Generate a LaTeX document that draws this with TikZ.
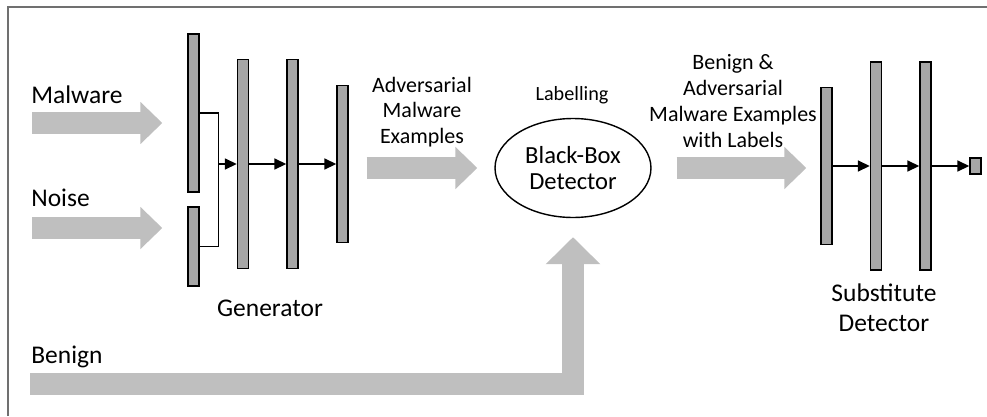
\documentclass[tikz,border=0pt]{standalone}
\usepackage{fontspec}
\setmainfont{Carlito}
\usetikzlibrary{arrows.meta,shapes.geometric,positioning}

\definecolor{barfill}{HTML}{A6A6A6}
\definecolor{flowgray}{HTML}{BFBFBF}
\definecolor{framegray}{HTML}{707070}

\tikzset{
  bar/.style={draw, fill=barfill, line width=0.8pt, minimum width=0.22cm, inner sep=0pt},
  link/.style={line width=0.9pt, -{Triangle[length=0.24cm, width=0.22cm]}},
  flow/.style={draw=flowgray, line width=0.43cm, -{Triangle[length=0.44cm, width=0.82cm]}},
  biglabel/.style={font=\fontsize{14.5}{17}\selectfont, align=center, inner sep=0pt},
  midlabel/.style={font=\fontsize{12.5}{14.7}\selectfont, align=center, inner sep=0pt},
}

\begin{document}
\begin{tikzpicture}[x=0.02cm, y=-0.02cm]

    % Fix the page size
    \useasboundingbox (0,0) rectangle (987,416);

    % Frame (top and left edges only)
    \draw[framegray, line width=1.1pt] (8,416) -- (8,7) -- (987,7);

    % Generator layers
    \node[bar, minimum height=3.16cm] (g1) at (193.5,113) {};
    \node[bar, minimum height=1.58cm] (g2) at (193.5,246.5) {};
    \node[bar, minimum height=4.18cm] (g3) at (243,164) {};
    \node[bar, minimum height=4.18cm] (g4) at (292.5,164) {};
    \node[bar, minimum height=3.14cm] (g5) at (342.5,164) {};

    % Join malware and noise inputs, then feed forward
    \draw[line width=0.9pt] (g1.east) -- ++(19,0) coordinate (gj) |- (g2.east);
    \draw[link] (gj |- g3.west) -- (g3.west);
    \draw[link] (g3.east) -- (g4.west);
    \draw[link] (g4.east) -- (g5.west);

    % Black-box detector
    \node[ellipse, draw, line width=0.8pt, minimum width=3.12cm, minimum height=1.98cm,
          inner sep=0pt, align=center, font=\fontsize{14}{14.7}\selectfont]
          (bbd) at (573,168) {Black-Box\\Detector};
    \node[font=\fontsize{11.5}{13}\selectfont, inner sep=0pt] (lab) at (572,95) {Labelling};

    % Substitute detector layers
    \node[bar, minimum height=3.14cm] (s1) at (826.5,166) {};
    \node[bar, minimum height=4.16cm] (s2) at (876,166) {};
    \node[bar, minimum height=4.16cm] (s3) at (925.5,166) {};
    \node[bar, minimum height=0.32cm] (out) at (975.5,166) {};

    \draw[link] (s1.east) -- (s2.west);
    \draw[link] (s2.east) -- (s3.west);
    \draw[link] (s3.east) -- (out.west);

    % Input points of the wide arrows
    \coordinate (malin) at (32,123);
    \coordinate (noisein) at (32,228);
    \coordinate (benin) at (30,384);

    % Wide gray arrows
    \draw[flow, shorten >=0.5cm] (malin) -- (malin -| g1.west);
    \draw[flow, shorten >=0.5cm] (noisein) -- (noisein -| g2.west);
    \draw[flow, shorten <=0.36cm, shorten >=0.34cm] (g5.east |- bbd) -- (bbd.west);
    \draw[flow, shorten <=0.5cm, shorten >=0.28cm] (bbd.east) -- (bbd.east -| s1.west);
    \draw[flow, -{Triangle[length=0.54cm, width=1.06cm]}, shorten >=0.38cm]
        (benin) -| (bbd.south);

    % Labels
    \node[biglabel, anchor=west] (mal) at (31,95) {Malware};
    \node[biglabel, anchor=west] (noise) at (31,198) {Noise};
    \node[biglabel, anchor=west] (ben) at (31,357) {Benign};
    \node[biglabel] (gen) at (270,308) {Generator};
    \node[biglabel] (sub) at (884,308) {Substitute\\Detector};
    \node[midlabel] (advlab) at (422,112) {Adversarial\\Malware\\Examples};
    \node[midlabel] (mixlab) at (733,101) {Benign \&\\Adversarial\\Malware Examples\\with Labels};

\end{tikzpicture}
\end{document}
